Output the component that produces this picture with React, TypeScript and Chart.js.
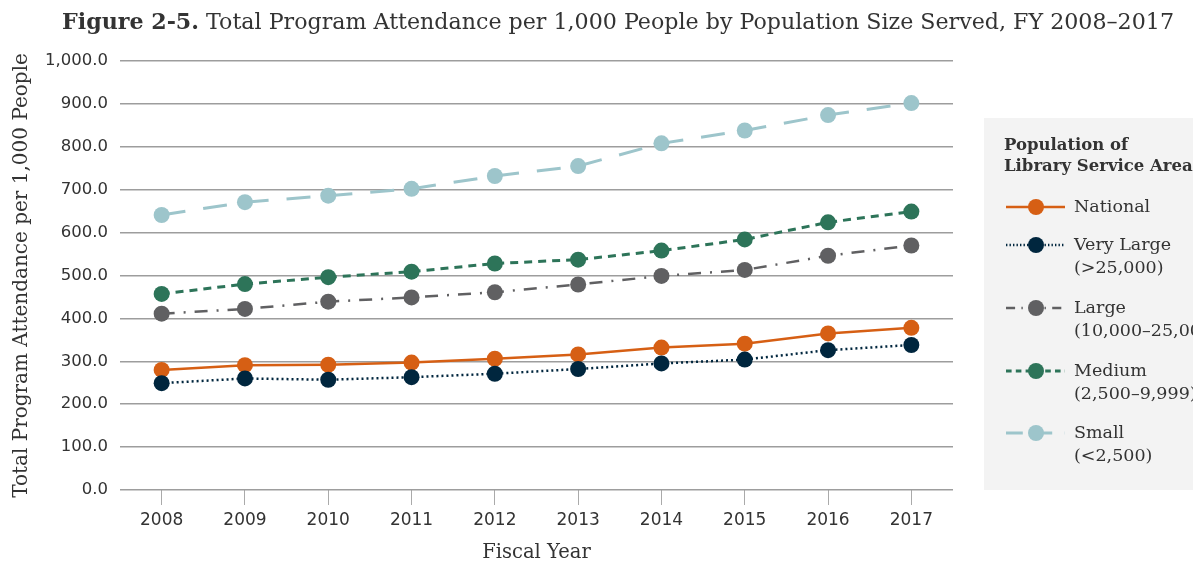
import React, { useEffect, useRef } from "react";
import { Chart, registerables } from "chart.js";

Chart.register(...registerables);

const years = ["2008", "2009", "2010", "2011", "2012", "2013", "2014", "2015", "2016", "2017"];
const national = [280, 291, 292, 297, 306, 316, 332, 341, 365, 378];
const veryLarge = [249, 260, 257, 263, 271, 282, 295, 304, 326, 338];
const large = [411, 422, 439, 449, 461, 479, 499, 513, 546, 570];
const medium = [457, 480, 496, 509, 528, 537, 558, 584, 624, 649];
const small = [641, 671, 686, 702, 732, 755, 808, 838, 874, 902];

const seriesNames = ["National", "Very Large", "Large", "Medium", "Small"];
const seriesSub = ["", "(>25,000)", "(10,000\u201325,000)", "(2,500\u20139,999)", "(<2,500)"];

const titleBold = "Figure 2-5.";
const titleRest = " Total Program Attendance per 1,000 People by Population Size Served, FY 2008\u20132017";
const legendTitle = ["Population of", "Library Service Area"];
const yTitle = "Total Program Attendance per 1,000 People";
const xTitle = "Fiscal Year";

const SERIF = "'DejaVu Serif', 'Liberation Serif', serif";
const SANS = "'DejaVu Sans', 'Liberation Sans', sans-serif";

const styles = [
  { color: "#d65f14", dash: [] as number[], width: 2.5 },
  { color: "#00263e", dash: [2, 3], width: 2.5 },
  { color: "#606062", dash: [13, 9, 2, 9], width: 2.5 },
  { color: "#2d7459", dash: [8, 6], width: 3 },
  { color: "#9dc5cb", dash: [24, 18], width: 3 },
];

const overlay = {
  id: "overlay",
  afterDraw(chart: any) {
    const ctx = chart.ctx as CanvasRenderingContext2D;
    ctx.save();
    // Title
    const target = 1113;
    let size = 20;
    ctx.textBaseline = "middle";
    ctx.textAlign = "left";
    ctx.font = `bold ${size}px ${SERIF}`;
    let w1 = ctx.measureText(titleBold).width;
    ctx.font = `${size}px ${SERIF}`;
    let w2 = ctx.measureText(titleRest).width;
    size = size * target / (w1 + w2);
    ctx.fillStyle = "#333333";
    ctx.font = `bold ${size}px ${SERIF}`;
    w1 = ctx.measureText(titleBold).width;
    ctx.fillText(titleBold, 62, 23);
    ctx.font = `${size}px ${SERIF}`;
    ctx.fillText(titleRest, 62 + w1, 23);

    // Legend box
    ctx.fillStyle = "#f3f3f3";
    ctx.fillRect(984, 118, 220, 372);
    ctx.fillStyle = "#333333";
    ctx.font = `bold 16.5px ${SERIF}`;
    ctx.fillText(legendTitle[0], 1004, 146);
    ctx.fillText(legendTitle[1], 1004, 167);
    const rows = [207, 245, 308, 371, 433];
    seriesNames.forEach((name, i) => {
      const y = rows[i];
      const s = styles[i];
      ctx.strokeStyle = s.color;
      ctx.lineWidth = s.width;
      ctx.setLineDash(s.dash.length ? s.dash.map((d) => d * 0.7) : []);
      ctx.beginPath();
      ctx.moveTo(1006, y);
      ctx.lineTo(1065, y);
      ctx.stroke();
      ctx.setLineDash([]);
      ctx.fillStyle = s.color;
      ctx.beginPath();
      ctx.arc(1036, y, 8, 0, Math.PI * 2);
      ctx.fill();
      ctx.fillStyle = "#333333";
      ctx.font = `17.5px ${SERIF}`;
      ctx.fillText(name, 1074, y);
      if (seriesSub[i]) ctx.fillText(seriesSub[i], 1074, y + 23);
    });
    ctx.restore();
  },
};

export default function App() {
  const ref = useRef<HTMLCanvasElement | null>(null);
  useEffect(() => {
    document.body.style.margin = "0";
    const allData = [national, veryLarge, large, medium, small];
    const chart = new Chart(ref.current as HTMLCanvasElement, {
      type: "line",
      data: {
        labels: years,
        datasets: seriesNames.map((name, i) => ({
          label: name,
          data: allData[i],
          borderColor: styles[i].color,
          backgroundColor: styles[i].color,
          borderWidth: styles[i].width,
          borderDash: styles[i].dash,
          pointRadius: 8,
          pointBorderWidth: 0,
          pointBackgroundColor: styles[i].color,
          pointBorderColor: styles[i].color,
          tension: 0,
          fill: false,
        })).reverse(),
      },
      options: {
        animation: false,
        responsive: true,
        maintainAspectRatio: false,
        layout: { padding: { top: 61, right: 240, left: 0, bottom: 0 } },
        plugins: { legend: { display: false }, tooltip: { enabled: false } },
        scales: {
          x: {
            offset: true,
            grid: { display: true, drawOnChartArea: false, drawTicks: true, tickLength: 15, offset: false, color: "#aaaaaa", lineWidth: 1 },
            border: { display: false },
            ticks: { color: "#333333", padding: 5, font: { family: SANS, size: 17 } },
            title: { display: true, text: xTitle, color: "#333333", font: { family: SERIF, size: 19.5 }, padding: { top: 0, bottom: 0 } },
            afterFit: (s: any) => { s.height = 75; },
          },
          y: {
            min: 0,
            max: 1000,
            grid: { color: "#9d9d9d", lineWidth: 1.5, drawTicks: false },
            border: { display: false },
            ticks: {
              stepSize: 100,
              color: "#333333",
              padding: 12,
              font: { family: SANS, size: 16.5 },
              callback: (v: any) => Number(v).toLocaleString("en-US", { minimumFractionDigits: 1, maximumFractionDigits: 1 }),
            },
            title: { display: true, text: yTitle, color: "#333333", font: { family: SERIF, size: 20 }, padding: { top: 10, bottom: 0 } },
            afterFit: (s: any) => { s.width = 120; },
          },
        },
      },
      plugins: [overlay],
    });
    return () => chart.destroy();
  }, []);
  return (
    <div style={{ width: 1193, height: 565, position: "relative" }}>
      <canvas ref={ref} />
    </div>
  );
}
